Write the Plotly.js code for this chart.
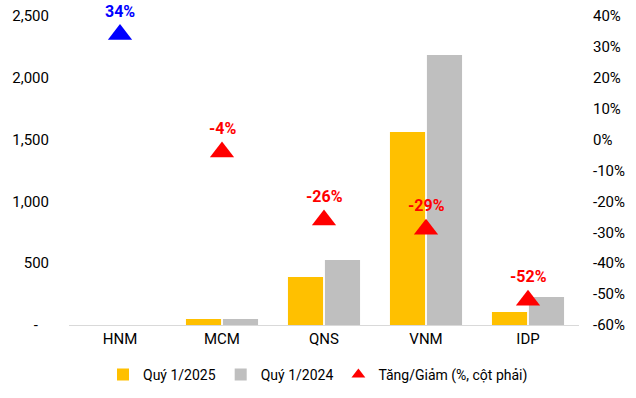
<!DOCTYPE html>
<html><head><meta charset="utf-8">
<script src="https://cdn.plot.ly/plotly-3.0.1.min.js"></script>
<style>html,body{margin:0;padding:0;background:#fff;}#chart{width:636px;height:398px;}</style>
</head><body><div id="chart"></div>
<script>
const categories = ["HNM", "MCM", "QNS", "VNM", "IDP"];
const q1_2025 = [0, 48, 388, 1561, 106];
const q1_2024 = [0, 49, 526, 2184, 226];
const changePct = [34, -4, -26, -29, -52];
const changeLabels = ["34%", "-4%", "-26%", "-29%", "-52%"];
const leftTickVals = [0, 500, 1000, 1500, 2000, 2500];
const leftTickText = ["-\u00a0\u00a0\u00a0", "500", "1,000", "1,500", "2,000", "2,500"];
const rightTickVals = [-60, -50, -40, -30, -20, -10, 0, 10, 20, 30, 40];
const rightTickText = ["-60%", "-50%", "-40%", "-30%", "-20%", "-10%", "0%", "10%", "20%", "30%", "40%"];

const FONT = "Roboto, Arial, sans-serif";
const colorOf = v => v >= 0 ? "#0000FF" : "#FF0000";
const upIdx = changePct.map((v, i) => v >= 0 ? i : -1).filter(i => i >= 0);
const downIdx = changePct.map((v, i) => v < 0 ? i : -1).filter(i => i >= 0);

function changeTrace(idx, color, showlegend) {
  return {
    type: "scatter", mode: "markers", name: "Tăng/Giảm (%, cột phải)",
    x: idx.map(i => categories[i]), y: idx.map(i => changePct[i]), yaxis: "y2",
    marker: {symbol: "triangle-up", size: 21, color: color},
    cliponaxis: false, showlegend: showlegend, hoverinfo: "skip"
  };
}

const traces = [
  {type: "bar", name: "Quý 1/2025", x: categories, y: q1_2025, marker: {color: "#FFC000"}, hoverinfo: "skip"},
  {type: "bar", name: "Quý 1/2024", x: categories, y: q1_2024, marker: {color: "#BFBFBF"}, hoverinfo: "skip"},
  changeTrace(downIdx, "#FF0000", true),
  changeTrace(upIdx, "#0000FF", false)
];

const annotations = categories.map((c, i) => ({
  x: c, y: changePct[i], xref: "x", yref: "y2", text: changeLabels[i], showarrow: false,
  yanchor: "bottom", yshift: 12, font: {family: FONT, size: 16, color: colorOf(changePct[i]), weight: "bold"}
}));

const layout = {
  width: 636, height: 398,
  margin: {l: 69, r: 57, t: 16, b: 73},
  paper_bgcolor: "#fff", plot_bgcolor: "#fff",
  font: {family: FONT, size: 15, color: "#000"},
  barmode: "group", bargap: 0.275, bargroupgap: 0.05,
  showlegend: true,
  legend: {orientation: "h", x: 0.5, xanchor: "center", xref: "container", y: 0.018, yref: "container", yanchor: "bottom",
           font: {family: FONT, size: 14}, itemsizing: "constant", traceorder: "normal"},
  annotations: annotations,
  xaxis: {showline: true, linecolor: "#D9D9D9", linewidth: 1, ticks: "", showgrid: false, zeroline: false,
          tickfont: {family: FONT, size: 15}},
  yaxis: {range: [0, 2500], tickvals: leftTickVals, ticktext: leftTickText, showgrid: false, zeroline: false,
          showline: false, ticks: "outside", ticklen: 16, tickcolor: "rgba(0,0,0,0)", tickfont: {family: FONT, size: 15}},
  yaxis2: {range: [-60, 40], tickvals: rightTickVals, ticktext: rightTickText, overlaying: "y", side: "right", showgrid: false,
           zeroline: false, showline: false, ticks: "outside", ticklen: 10, tickcolor: "rgba(0,0,0,0)",
           tickfont: {family: FONT, size: 15}}
};

Plotly.newPlot("chart", traces, layout, {displayModeBar: false, staticPlot: true});
</script></body></html>
